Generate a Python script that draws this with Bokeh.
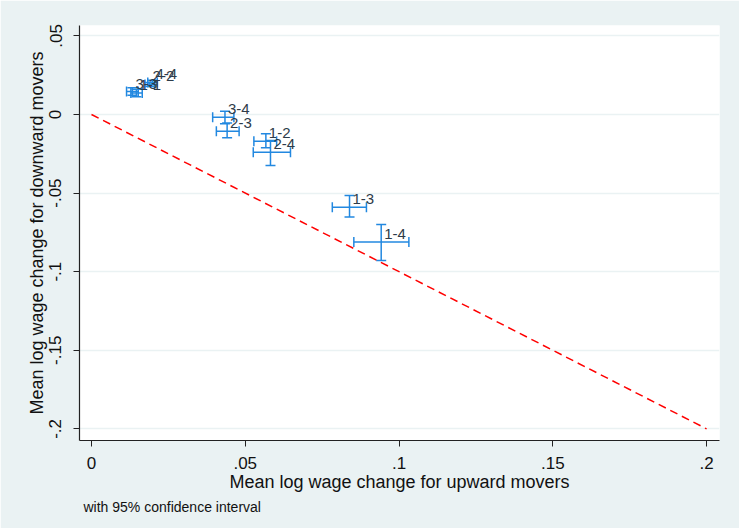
from bokeh.plotting import figure
from bokeh.models import (ColumnDataSource, Range1d, Whisker, TeeHead, FixedTicker,
                          CustomJSTickFormatter, Title)
from bokeh.core.properties import value
from bokeh.embed import file_html
from bokeh.resources import INLINE

# transitions between wage quartiles (label = from-to)
pairs = ["1-2", "1-3", "1-4", "2-3", "2-4", "3-4", "1-1", "2-2", "3-3", "4-4"]
# mean log wage change, upward movers (x) with 95% CI
up_mean = [0.0567, 0.0839, 0.0942, 0.0441, 0.0582, 0.0434, 0.0146, 0.0189, 0.0133, 0.0198]
up_lo = [0.0528, 0.0783, 0.0853, 0.0406, 0.0526, 0.0394, 0.0128, 0.0174, 0.0114, 0.0183]
up_hi = [0.0602, 0.0894, 0.1032, 0.0480, 0.0647, 0.0463, 0.0165, 0.0205, 0.0152, 0.0214]
# mean log wage change, downward movers (y) with 95% CI
down_mean = [-0.0170, -0.0590, -0.0812, -0.0106, -0.0240, -0.0017, 0.0137, 0.0191, 0.0146, 0.0204]
down_lo = [-0.0212, -0.0653, -0.0929, -0.0148, -0.0324, -0.0059, 0.0113, 0.0178, 0.0122, 0.0191]
down_hi = [-0.0123, -0.0515, -0.0700, -0.0055, -0.0165, 0.0021, 0.0161, 0.0204, 0.0170, 0.0217]

# 45-degree reference line (y = -x)
ref_x = [0.0, 0.2]
ref_y = [0.0, -0.2]

x_ticks = [0.0, 0.05, 0.1, 0.15, 0.2]
x_labels = ["0", ".05", ".1", ".15", ".2"]
y_ticks = [0.05, 0.0, -0.05, -0.1, -0.15, -0.2]
y_labels = [".05", "0", "-.05", "-.1", "-.15", "-.2"]

BG = "#EAF2F3"
BLUE = "#2288E0"
FONT = "Liberation Sans"

src = ColumnDataSource(dict(x=up_mean, xlo=up_lo, xhi=up_hi,
                            y=down_mean, ylo=down_lo, yhi=down_hi, lab=pairs))

p = figure(width=739, height=528, output_backend="svg", toolbar_location=None,
           x_range=Range1d(-0.0039, 0.2042), y_range=Range1d(-0.2074, 0.0566),
           min_border_left=79, min_border_right=20, min_border_top=25, min_border_bottom=88)
p.background_fill_color = "white"
p.border_fill_color = BG
p.outline_line_color = None

p.line(ref_x, ref_y, line_color="red", line_width=1.5, line_dash="8 5")

for dim, base, lo, hi in [("width", "y", "xlo", "xhi"), ("height", "x", "ylo", "yhi")]:
    w = Whisker(source=src, base=base, lower=lo, upper=hi, dimension=dim,
                line_color=BLUE, line_width=1.5,
                upper_head=TeeHead(size=10, line_color=BLUE, line_width=1.5),
                lower_head=TeeHead(size=10, line_color=BLUE, line_width=1.5))
    p.add_layout(w)

p.text(x="x", y="y", text="lab", source=src, x_offset=3, y_offset=-8,
       text_align="left", text_baseline="middle", text_color="#2E3B49",
       text_font=value(FONT), text_font_size="15px")


def fmt(vals, labs):
    return CustomJSTickFormatter(args=dict(vals=vals, labs=labs), code="""
        for (let i = 0; i < vals.length; i++) {
            if (Math.abs(vals[i] - tick) < 1e-9) return labs[i];
        }
        return String(tick);
    """)


p.xaxis.ticker = FixedTicker(ticks=x_ticks)
p.xaxis.formatter = fmt(x_ticks, x_labels)
p.yaxis.ticker = FixedTicker(ticks=y_ticks)
p.yaxis.formatter = fmt(y_ticks, y_labels)
p.yaxis.major_label_orientation = "parallel"

p.xaxis.axis_label = "Mean log wage change for upward movers"
p.yaxis.axis_label = "Mean log wage change for downward movers"
for ax in (p.xaxis, p.yaxis):
    ax.axis_line_color = "#222222"
    ax.axis_line_width = 1.2
    ax.major_tick_line_color = "#222222"
    ax.major_tick_out = 6
    ax.major_tick_in = 0
    ax.minor_tick_line_color = None
    ax.major_label_text_font = FONT
    ax.major_label_text_font_size = "17px"
    ax.major_label_text_color = "#111111"
    ax.axis_label_text_font = FONT
    ax.axis_label_text_font_size = "18px"
    ax.axis_label_text_font_style = "normal"
    ax.axis_label_text_color = "#111111"
p.xaxis.major_label_standoff = 10
p.xaxis.axis_label_standoff = 0
p.yaxis.major_label_standoff = 12
p.yaxis.axis_label_standoff = 0

p.xgrid.grid_line_color = None
p.ygrid.grid_line_color = BG
p.ygrid.grid_line_width = 1.5

note = Title(text="with 95% confidence interval", align="left", offset=4, standoff=4,
             text_font=FONT, text_font_size="14px", text_font_style="normal",
             text_color="#111111")
p.add_layout(note, "below")

open("out.html", "w").write(file_html(p, INLINE))
